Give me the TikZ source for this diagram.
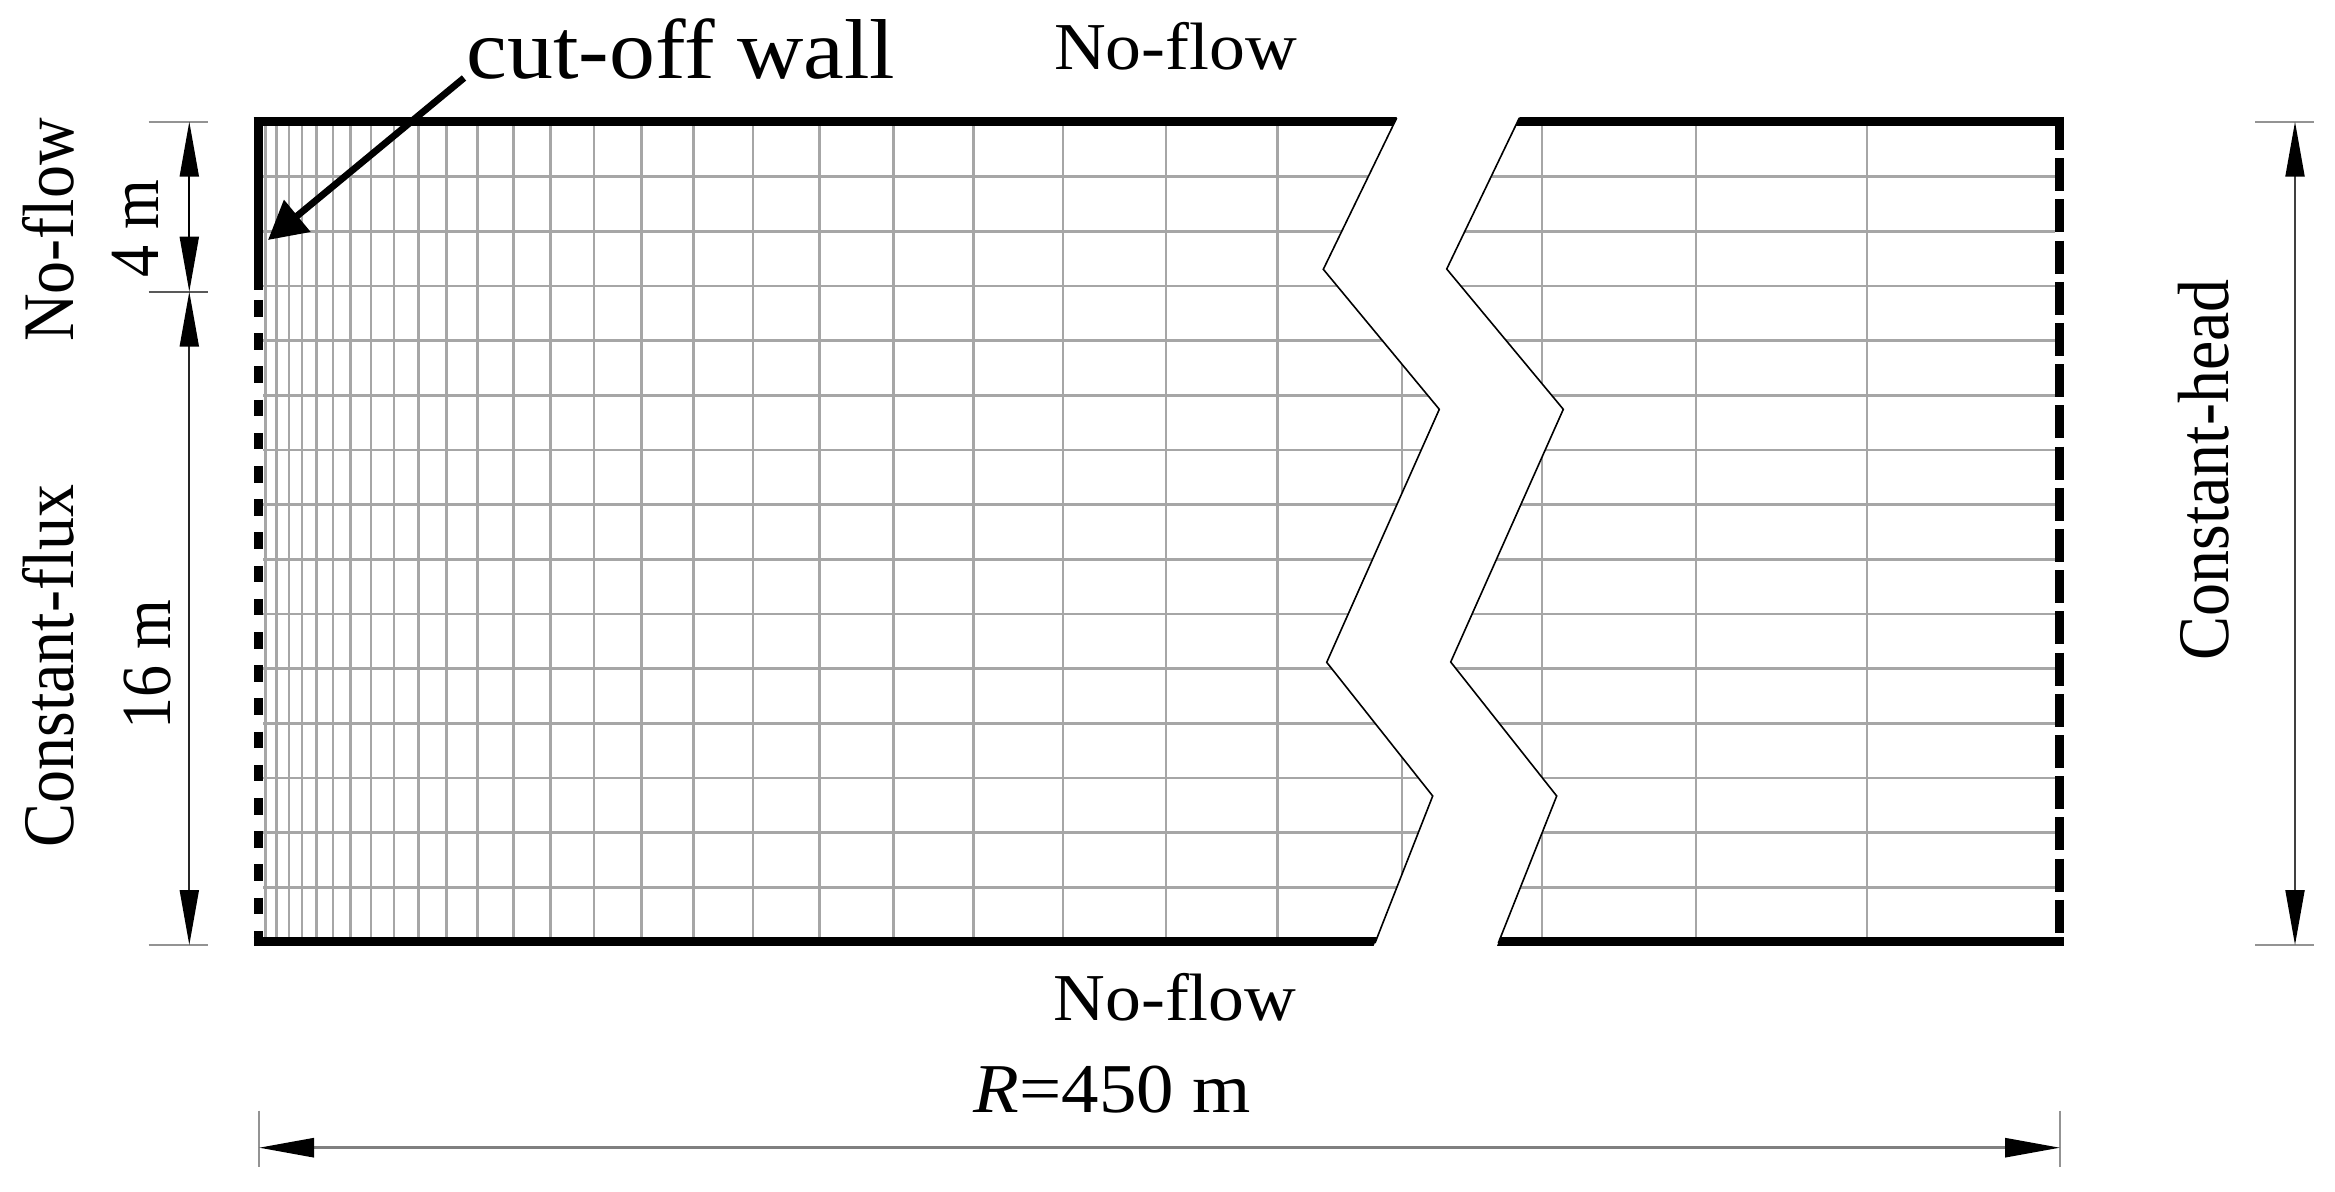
\documentclass[tikz,border=0pt]{standalone}
\usepackage{fontspec}
\setmainfont{Liberation Serif}
\usetikzlibrary{arrows.meta}

\begin{document}
\begin{tikzpicture}[x=0.5pt,y=-0.5pt,>={Triangle[length=27.5pt,width=9.5pt,color=black]},
gridline/.style={draw=gray!70,line width=1.25pt},
wall/.style={line width=4.3pt},
fluxwall/.style={line width=4.5pt,dash pattern=on 8.3pt off 8.3pt},
headwall/.style={line width=4.5pt,dash pattern=on 16.5pt off 4.1pt},
breakline/.style={line width=0.8pt},
dimline/.style={<->,draw=black!75,line width=1pt},
tickline/.style={draw=gray!85,line width=1pt},
label/.style={anchor=base,xscale=1.07,font=\fontsize{33.5}{36}\selectfont},
sidelabel/.style={anchor=base,xscale=1.1,rotate=90,font=\fontsize{33}{36}\selectfont},
sizelabel/.style={anchor=base,xscale=1.1,rotate=90,font=\fontsize{32}{36}\selectfont}]
\useasboundingbox (0,0) rectangle (2335,1192);
% mesh
\foreach \xg in {265.5,276.5,289,302,316.5,333,350.5,371,394,418.5,446.5,477.5,513.5,550.5,594,641.5,693.5,753,819.5,893.5,973.5,1063,1166,1277.5,1402,1542,1696,1867}
	\draw[gridline] (\xg,122) -- (\xg,942);
\foreach \yg in {176.7,231.3,286,340.7,395.3,450,504.7,559.3,614,668.7,723.3,778,832.7,887.3}
	\draw[gridline] (263,\yg) -- (2055,\yg);
% boundaries
\coordinate (tl) at (253.5,121.7);
\coordinate (tr) at (2064,121.7);
\coordinate (bl) at (253.5,941.7);
\coordinate (br) at (2064,941.7);
\draw[wall] (tl) -- (tr);
\draw[wall] (bl) -- (br);
\coordinate (wallt) at (258,118);
\coordinate (wallb) at (258,290);
\coordinate (fluxt) at (258,300);
\coordinate (fluxb) at (258,942);
\coordinate (headt) at (2059.5,117);
\coordinate (headb) at (2059.5,938);
\draw[wall,line width=4.5pt] (wallt) -- (wallb);
\draw[fluxwall] (fluxt) -- (fluxb);
\draw[headwall] (headt) -- (headb);
% break in the mesh
\coordinate (a0) at (1398.5,114);
\coordinate (a1) at (1323.3,269.3);
\coordinate (a2) at (1439.3,409.3);
\coordinate (a3) at (1326.7,662.3);
\coordinate (a4) at (1432.7,796);
\coordinate (a5) at (1373,948);
\coordinate (b0) at (1521,114);
\coordinate (b1) at (1446.7,269);
\coordinate (b2) at (1563.3,409.3);
\coordinate (b3) at (1450.7,662);
\coordinate (b4) at (1556.7,796);
\coordinate (b5) at (1496,948);
\fill[white] (a0) -- (a1) -- (a2) -- (a3) -- (a4) -- (a5) -- (b5) -- (b4) -- (b3) -- (b2) -- (b1) -- (b0) -- cycle;
\coordinate (c0) at (1396.7,118);
\coordinate (c5) at (1375,943);
\coordinate (d0) at (1519.3,118);
\coordinate (d5) at (1498.3,943);
\draw[breakline] (c0) -- (a1) -- (a2) -- (a3) -- (a4) -- (c5);
\draw[breakline] (d0) -- (b1) -- (b2) -- (b3) -- (b4) -- (d5);
% cut-off wall arrow
\node (wall) at (466,79)[anchor=base west,xscale=1.08,font=\fontsize{42.5}{46}\selectfont,inner sep=0pt] {cut-off wall};
\coordinate (wallend) at (464,78);
\coordinate (walltip) at (268,240);
\draw[-{Triangle[length=19pt,width=20pt]},line width=3.4pt] (wallend) -- (walltip);
% left dimensions
\coordinate (lt) at (189.3,121.7);
\coordinate (lm) at (189.3,291.7);
\coordinate (lb) at (189.3,945);
\draw[tickline] (148.5,121.7) -- (207.5,121.7);
\draw[tickline,draw=black!65] (148.5,291.7) -- (207.5,291.7);
\draw[tickline] (148.5,945) -- (208,945);
\draw[dimline,draw=black] (lt) -- (lm);
\draw[dimline,draw=black!85] (lm) -- (lb);
% right dimension
\coordinate (rt) at (2295,121.7);
\coordinate (rb) at (2295,945);
\draw[tickline] (2255,121.7) -- (2314,121.7);
\draw[tickline] (2255,945) -- (2314,945);
\draw[dimline] (rt) -- (rb);
% bottom dimension
\coordinate (bdl) at (259,1147.7);
\coordinate (bdr) at (2060,1147.7);
\draw[tickline] (259,1110.5) -- (259,1166.5);
\draw[tickline] (2060,1110.5) -- (2060,1166.5);
\draw[dimline,draw=black!50,line width=1.4pt] (bdl) -- (bdr);
% labels
\node (topflow) at (1175.5,69.3)[label,inner sep=0pt] {No-flow};
\node (botflow) at (1175,1020.7)[label,inner sep=0pt] {No-flow};
\node (radius) at (1112.5,1112.7)[label,inner sep=0pt,font=\fontsize{35}{38}\selectfont] {\textit{R}=450 m};
\node (leftflow) at (73,230)[sidelabel,inner sep=0pt] {No-flow};
\node (leftflux) at (73,666)[sidelabel,inner sep=0pt] {Constant-flux};
\node (fourm) at (158,229)[sizelabel,inner sep=0pt] {4 m};
\node (sixteenm) at (170,665)[sizelabel,inner sep=0pt] {16 m};
\node (righthead) at (2228,470)[sidelabel,inner sep=0pt] {Constant-head};
\end{tikzpicture}
\end{document}
